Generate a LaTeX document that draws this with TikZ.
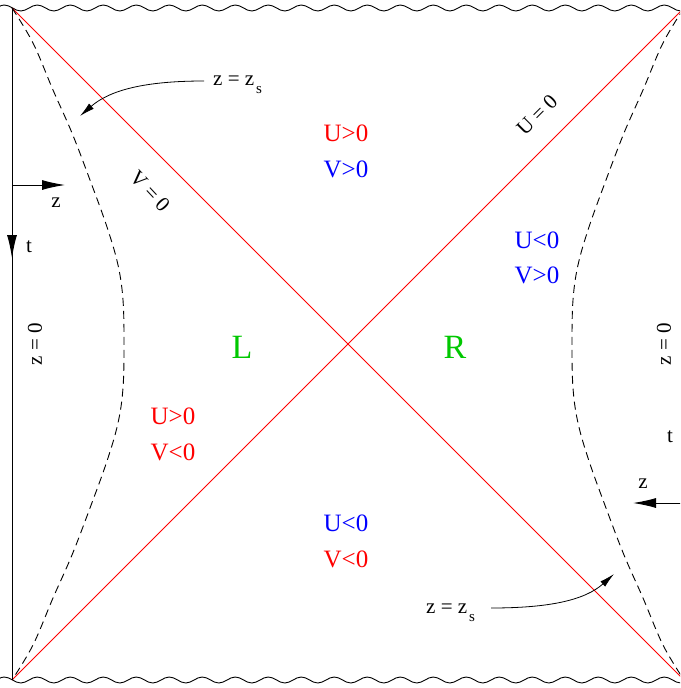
\documentclass[tikz,border=0pt]{standalone}
\usepackage{fontspec}
\setmainfont{Liberation Serif}
\usetikzlibrary{decorations.pathmorphing,arrows.meta}
\definecolor{lgreen}{RGB}{0,200,0}
\begin{document}
\begin{tikzpicture}[x=1pt,y=-1pt,
  redline/.style={red,line width=0.9pt},
  bdry/.style={black,line width=1pt},
  wave/.style={black,line width=0.9pt,decorate,decoration={snake,segment length=33pt,amplitude=3pt}},
  horizon/.style={dash pattern=on 8pt off 5pt,line width=0.9pt},
  lbl/.style={font=\fontsize{21}{23}\selectfont,inner sep=0pt},
  reg/.style={font=\fontsize{25}{28}\selectfont,inner sep=0pt},
  big/.style={font=\fontsize{34}{36}\selectfont,inner sep=0pt,text=lgreen},
  arr/.style={-{Latex[length=23pt,width=10pt]},line width=1pt},
  ptr/.style={-{Latex[length=15pt,width=7pt]},line width=0.8pt}
]
\useasboundingbox (0,0) rectangle (680,688);
\clip (0,0) rectangle (680,688);
\fill[white] (0,0) rectangle (680,688);

\coordinate (TL) at (12,8);
\coordinate (BL) at (12,680);
\coordinate (TR) at (684,8);
\coordinate (BR) at (684,680);

% singularities
\draw[wave] (-6,8) -- (700,8);
\draw[wave] (-6,680) -- (700,680);

% horizons
\draw[redline] (TL) -- (BR);
\draw[redline] (BL) -- (TR);

% boundaries z=z_s
\draw[horizon] plot[smooth,tension=0.6] coordinates {(12,8) (33,43) (53,90) (72,133) (90,180) (107,227) (118,265) (123,300) (124,344) (123,388) (118,423) (107,461) (90,508) (72,555) (53,598) (33,645) (12,680)};
\draw[horizon] plot[smooth,tension=0.6] coordinates {(684,8) (663,43) (643,90) (624,133) (606,180) (589,227) (578,265) (573,300) (572,344) (573,388) (578,423) (589,461) (606,508) (624,555) (643,598) (663,645) (684,680)};

% left boundary z=0 with axes
\draw[bdry] (TL) -- (BL);
\coordinate (tL) at (12,258);
\draw[arr] (TL) -- (tL);
\coordinate (zL0) at (12,185);
\coordinate (zL1) at (65,185);
\draw[arr] (zL0) -- (zL1);
\node[lbl] (tLlab) at (29,247) {t};
\node[lbl] (zLlab) at (56,203) {z};
\node[lbl,rotate=90] (z0L) at (35,344) {z = 0};

% right side axes
\coordinate (zR0) at (684,503);
\coordinate (zR1) at (633,503);
\draw[arr] (zR0) -- (zR1);
\node[lbl] (zRlab) at (643,484) {z};
\node[lbl] (tRlab) at (670,437) {t};
\node[lbl,rotate=90] (z0R) at (664,344) {z = 0};

% horizon labels
\node[lbl,rotate=-47] (V0) at (150,191) {V = 0};
\node[lbl,rotate=45] (U0) at (537,115) {U = 0};

% z = z_s labels with pointers
\node[lbl,anchor=base west] (zsU) at (213,85) {z = z\hspace{2pt}\raisebox{-8pt}{\fontsize{15}{15}\selectfont s}};
\coordinate (zsUs) at (204,81);
\coordinate (zsUt) at (80,116);
\draw[ptr] (zsUs) .. controls (145,81) and (110,90) .. (zsUt);

\node[lbl,anchor=base west] (zsD) at (426,613) {z = z\hspace{2pt}\raisebox{-8pt}{\fontsize{15}{15}\selectfont s}};
\coordinate (zsDs) at (491,608);
\coordinate (zsDt) at (614,574);
\draw[ptr] (zsDs) .. controls (550,608) and (585,600) .. (zsDt);

% region labels
\node[reg,text=red]  (r1a) at (346,133) {U>0};
\node[reg,text=blue] (r1b) at (346,169) {V>0};
\node[reg,text=blue] (r2a) at (537,240) {U<0};
\node[reg,text=blue] (r2b) at (537,275) {V>0};
\node[reg,text=red]  (r3a) at (173,416) {U>0};
\node[reg,text=red]  (r3b) at (173,452) {V<0};
\node[reg,text=blue] (r4a) at (346,523) {U<0};
\node[reg,text=red]  (r4b) at (346,559) {V<0};
\node[big] (Lw) at (242,347) {L};
\node[big] (Rw) at (455,347) {R};
\end{tikzpicture}
\end{document}
